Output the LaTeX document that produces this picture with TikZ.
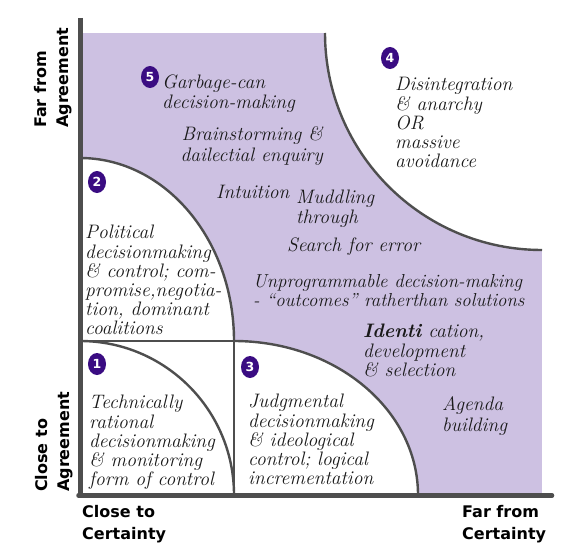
\documentclass[tikz,border=0pt]{standalone}
\usepackage{fontspec}
\newfontfamily\axisfont{DejaVu Sans}
\usetikzlibrary{shapes.geometric}
\definecolor{lav}{RGB}{205,193,226}
\definecolor{badgecol}{RGB}{58,12,130}
\definecolor{linegray}{RGB}{78,78,78}
\definecolor{txt}{RGB}{25,25,25}
\begin{document}
\begin{tikzpicture}[x=1pt,y=-1pt,
  body/.style={font=\fontsize{19.5}{19}\selectfont\itshape\addfontfeatures{FakeBold=0.35}, inner sep=0pt, align=left, anchor=north west, text=txt},
  bodysmall/.style={body, font=\fontsize{18.8}{19}\selectfont\itshape\addfontfeatures{FakeBold=0.35}},
  axislbl/.style={font=\axisfont\bfseries\fontsize{16}{22}\selectfont, inner sep=0pt, align=left, anchor=north west, text=black},
  badge/.style={ellipse, fill=badgecol, text=white, minimum width=18pt, minimum height=22pt, inner sep=0pt, font=\axisfont\bfseries\fontsize{12.5}{12.5}\selectfont},
  arcline/.style={draw=linegray, line width=2.4pt},
  axisline/.style={draw=linegray, line width=4.5pt}]
\useasboundingbox (0,0) rectangle (567,551);
% key coordinates
\coordinate (tl) at (80,33);
\coordinate (br) at (542,495);
\coordinate (mid) at (234,341);
% purple field
\fill[lav] (tl) rectangle (br);
% white regions
\fill[white] (80,158) .. controls (165.05,158) and (234,239.93) .. (mid) -- (80,341) -- cycle;
\fill[white] (80,341) rectangle (234,495);
\fill[white] (mid) .. controls (335.6,341) and (418,409.95) .. (418,495) -- (234,495) -- cycle;
\fill[white] (325,32) .. controls (325,152.85) and (422.15,250) .. (542,250) -- (543,250) -- (543,32) -- cycle;
% boundary lines
\draw[arcline] (80,158) .. controls (165.05,158) and (234,239.93) .. (mid);
\draw[arcline] (80,341) -- (mid) -- (234,495);
\draw[arcline] (80,341) .. controls (165.05,341) and (234,409.95) .. (234,495);
\draw[arcline] (mid) .. controls (335.6,341) and (418,409.95) .. (418,495);
\draw[arcline] (325,33) .. controls (325,152.85) and (422.15,250) .. (542,250);
% axes
\coordinate (ytop) at (80.5,18);
\coordinate (origin) at (80.5,495.5);
\coordinate (xend) at (552,495.5);
\draw[axisline] (ytop) -- (80.5,497.5);
\draw[axisline,line cap=round] (78.5,495.5) -- (xend);
% axis labels
\node[axislbl, rotate=90] (farAgr) at (30.6,128) {\strut Far from\\Agreement};
\node[axislbl, rotate=90] (closeAgr) at (31.6,492) {\strut Close to\\Agreement};
\node[axislbl] (closeCert) at (82,501.6) {\strut Close to\\Certainty};
\node[axislbl] (farCert) at (462,501.6) {\strut Far from\\Certainty};
% badges
\node[badge] (b5) at (150,77) {5};
\node[badge] (b2) at (97,182) {2};
\node[badge] (b4) at (390,58) {4};
\node[badge] (b1) at (97,364) {1};
\node[badge] (b3) at (250,367) {3};
% texts
\node[body] (t5) at (162,74.7) {\strut Garbage-can\\decision-making};
\node[body, align=right, anchor=north east] (tbrain) at (323,126.7) {\strut Brainstorming \&\\dailectial enquiry};
\node[body] (tintu) at (216,184.7) {\strut Intuition};
\node[body] (tmud) at (296,189.7) {\strut Muddling\\through};
\node[body] (tsearch) at (287,237.7) {\strut Search for error};
\node[bodysmall] (tunprog) at (253,273.7) {\strut Unprogrammable decision-making\\ - “outcomes” ratherthan solutions};
\node[body] (tident) at (363,323.7) {\strut \textbf{Identi} cation,\\development\\\& selection};
\node[body] (tagenda) at (442,396.7) {\strut Agenda\\building};
\node[body] (t4) at (395,76.7) {\strut Disintegration\\\& anarchy\\OR\\massive\\avoidance};
\node[body] (t2) at (85,224.7) {\strut Political\\decisionmaking\\\& control; com-\\promise,negotia-\\tion, dominant\\coalitions};
\node[body] (t1) at (89,394.7) {\strut Technically\\rational\\decisionmaking\\\& monitoring\\form of control};
\node[body] (t3) at (248,393.7) {\strut Judgmental\\decisionmaking\\\& ideological\\control; logical\\incrementation};
\end{tikzpicture}
\end{document}
